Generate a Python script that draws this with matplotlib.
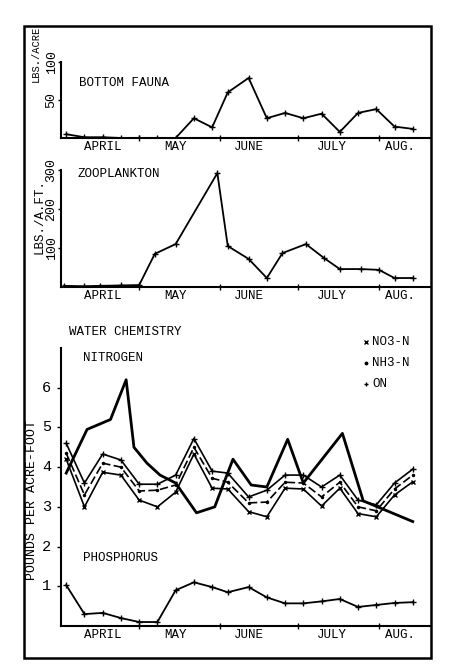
import matplotlib.pyplot as plt
from matplotlib.patches import Rectangle

plt.rcParams['font.family'] = ['Liberation Mono', 'DejaVu Sans Mono']

# sampling dates as days after April 1
sample_days = [2, 9, 16, 23, 30, 37, 44, 51, 58, 64, 72, 79, 86, 93, 100, 107, 114, 121, 128, 135]

bottom_fauna = [5, 1, 1, 0, 0, 0, 0, 26, 14, 60, 79, 26, 33, 26, 32, 8, 33, 38, 15, 12]

zoo_days = [1, 9, 15, 23, 30, 36, 44, 60, 64, 72, 79, 85, 94, 101, 107, 115, 122, 128, 135]
zooplankton = [3, 2, 3, 4, 5, 85, 110, 292, 105, 72, 23, 87, 110, 74, 46, 46, 44, 23, 23]

peak_days = [2, 10, 19, 25, 28, 33, 38, 44, 52, 59, 66, 73, 79, 87, 93, 108, 116, 135]
nitrogen_peak = [3.85, 4.95, 5.2, 6.2, 4.5, 4.1, 3.8, 3.6, 2.85, 3.0, 4.2, 3.55, 3.5, 4.7, 3.6, 4.85, 3.15, 2.63]

no3_n = [4.6, 3.6, 4.33, 4.18, 3.57, 3.57, 3.8, 4.72, 3.9, 3.85, 3.25, 3.42, 3.8, 3.8, 3.5, 3.8, 3.17, 3.05, 3.6, 3.95]
nh3_n = [4.35, 3.3, 4.1, 4.0, 3.4, 3.42, 3.55, 4.5, 3.72, 3.62, 3.1, 3.12, 3.62, 3.6, 3.25, 3.62, 3.0, 2.9, 3.45, 3.8]
on_n = [4.2, 3.0, 3.87, 3.8, 3.17, 3.0, 3.37, 4.33, 3.47, 3.45, 2.88, 2.75, 3.47, 3.45, 3.02, 3.47, 2.83, 2.75, 3.3, 3.63]

phosphorus = [1.03, 0.3, 0.33, 0.2, 0.1, 0.1, 0.9, 1.1, 0.98, 0.85, 0.98, 0.72, 0.57, 0.57, 0.62, 0.68, 0.48, 0.53, 0.58, 0.6]

months = ['APRIL', 'MAY', 'JUNE', 'JULY', 'AUG.']
month_pos = [16, 44, 72, 104, 130]
month_bounds = [30, 61, 91, 122]

W, H = 450, 669
fig = plt.figure(figsize=(W / 100, H / 100), dpi=100)


def panel(top, bottom, ylim, yticks, ylabels, rot):
    ax = fig.add_axes([61 / W, 1 - bottom / H, 370 / W, (bottom - top) / H])
    ax.set_xlim(0, 142)
    ax.set_ylim(*ylim)
    ax.spines[['top', 'right']].set_visible(False)
    ax.spines[['left', 'bottom']].set_linewidth(1.5)
    ax.set_xticks(month_bounds)
    ax.set_xticklabels([])
    ax.tick_params(axis='x', direction='inout', length=4, width=1)
    ax.set_yticks(yticks)
    ax.set_yticklabels(ylabels, rotation=rot, va='center', fontsize=9.5)
    ax.tick_params(axis='y', length=2.5, width=1, pad=0)
    for d, m in zip(month_pos, months):
        ax.annotate(m, xy=(d, 0), xycoords=('data', 'axes fraction'), xytext=(0, -2.5),
                    textcoords='offset points', ha='center', va='top', fontsize=9)
    return ax


line_kw = dict(color='black', lw=1.3, marker='+', ms=4, mew=1)

# bottom fauna
ax1 = panel(62, 138, (0, 100), [50, 100], ['50', '100'], 90)
ax1.plot(sample_days, bottom_fauna, **line_kw)
fig.text(79 / W, 1 - 83 / H, 'BOTTOM FAUNA', fontsize=9, va='center')
fig.text(36 / W, 1 - 54 / H, 'LBS./ACRE', rotation=90, ha='center', va='center', fontsize=7.5)

# zooplankton
ax2 = panel(170, 287, (0, 300), [100, 200, 300], ['100', '200', '300'], 90)
ax2.plot(zoo_days, zooplankton, **line_kw)
fig.text(78 / W, 1 - 174 / H, 'ZOOPLANKTON', fontsize=9, va='center')
fig.text(39 / W, 1 - 217 / H, 'LBS./A.FT.', rotation=90, ha='center', va='center', fontsize=9)

# water chemistry
ax3 = panel(348, 626, (0, 7), [1, 2, 3, 4, 5, 6], ['1', '2', '3', '4', '5', '6'], 0)
ax3.tick_params(axis='y', labelsize=11, length=3, pad=4)
ax3.plot(peak_days, nitrogen_peak, color='black', lw=2.0)
ax3.plot(sample_days, no3_n, color='black', lw=1.2, marker='+', ms=4)
ax3.plot(sample_days, nh3_n, color='black', lw=1.2, ls=(0, (5, 2)), marker='.', ms=3)
ax3.plot(sample_days, on_n, color='black', lw=1.2, marker='x', ms=3)
ax3.plot(sample_days, phosphorus, **line_kw)
fig.text(69 / W, 1 - 332 / H, 'WATER CHEMISTRY', fontsize=9, va='center')
fig.text(83 / W, 1 - 358 / H, 'NITROGEN', fontsize=9, va='center')
fig.text(83 / W, 1 - 558 / H, 'PHOSPHORUS', fontsize=9, va='center')
fig.text(32 / W, 1 - 500 / H, 'POUNDS PER ACRE-FOOT', rotation=90, ha='center', va='center', fontsize=9.5)

for label, mk, y in [('NO3-N', 'x', 342), ('NH3-N', '.', 363), ('ON', '+', 384)]:
    fig.lines.append(plt.Line2D([366 / W], [1 - y / H], marker=mk, color='black', ms=3.5,
                                transform=fig.transFigure))
    fig.text(372 / W, 1 - y / H, label, fontsize=9, va='center')

# page frame
fig.add_artist(Rectangle((24 / W, 1 - 658 / H), 407 / W, 632 / H, transform=fig.transFigure,
                         fill=False, lw=1.8, color='black'))

fig.savefig('out.png', dpi=100)
